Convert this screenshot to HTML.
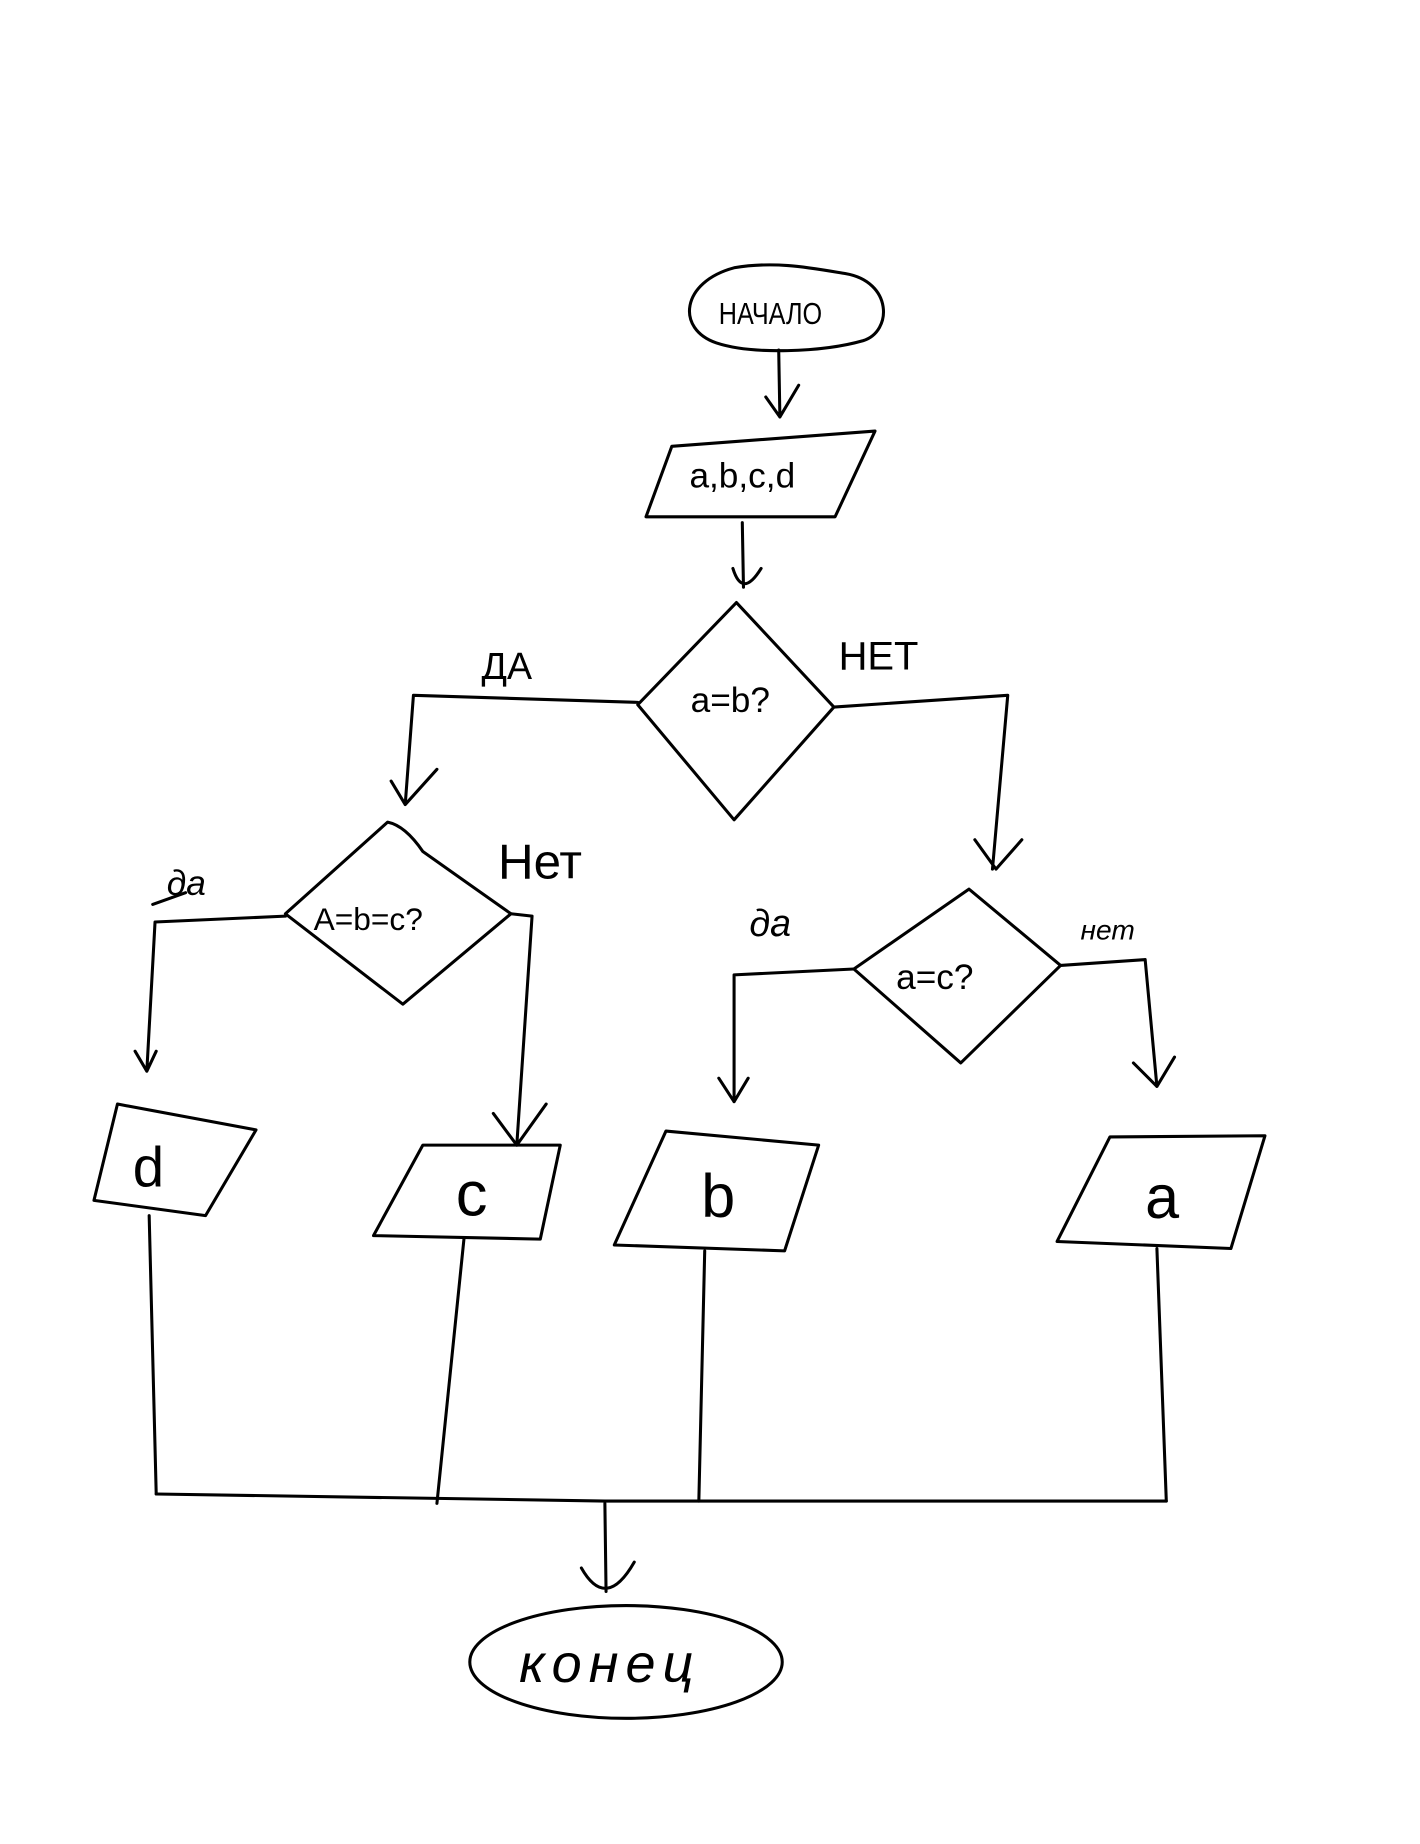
<!DOCTYPE html>
<html><head><meta charset="utf-8"><style>
html,body{margin:0;padding:0;background:#fff;}
svg{display:block;}
text{font-family:"Liberation Sans","DejaVu Sans",sans-serif;fill:#000;}
</style></head><body>
<svg width="1420" height="1844" viewBox="0 0 1209 1570" xmlns="http://www.w3.org/2000/svg">
<g fill="none" stroke="#000" stroke-width="2.6" stroke-linecap="round" stroke-linejoin="round">
<!-- start oval -->
<path d="M625,228 C660,222 690,228 720,233 C760,240 760,282 735,290 C700,300 640,302 610,292 C575,280 580,240 625,228 Z"/>
<path d="M663,298 L664,355 M652,338 L664,355 L680,328"/>
<!-- input -->
<path d="M572,380 L745,367 L711,440 L550,440 Z"/>
<path d="M632,445 L633,500 M624,484 Q632,510 648,484"/>
<!-- diamond 1 -->
<path d="M627,513 L543,600 L625,698 L710,602 Z"/>
<path d="M543,598 L352,592 L345,685 M333,665 L345,685 L372,655"/>
<path d="M710,602 L858,592 L845,740 M830,715 L848,740 L870,715"/>
<!-- diamond 2 -->
<path d="M330,700 Q345,703 360,725 L435,778 L343,855 L243,778 Z"/>
<path d="M243,780 L132,785 L125,912 M115,895 L125,912 L133,895"/>
<path d="M435,778 L453,780 L440,975 M420,948 L440,975 L465,940"/>
<!-- diamond 3 -->
<path d="M825,757 L727,825 L818,905 L903,822 Z"/>
<path d="M727,825 L625,830 L625,938 M612,918 L625,938 L637,918"/>
<path d="M903,822 L975,817 L985,925 M965,905 L985,925 L1000,900"/>
<!-- outputs -->
<path d="M100,940 L218,962 L175,1035 L80,1022 Z"/>
<path d="M360,975 L477,975 L460,1055 L318,1052 Z"/>
<path d="M567,963 L697,975 L668,1065 L523,1060 Z"/>
<path d="M945,968 L1077,967 L1048,1063 L900,1057 Z"/>
<!-- merge lines -->
<path d="M127,1035 L133,1272"/>
<path d="M395,1055 L372,1280"/>
<path d="M600,1065 L595,1278"/>
<path d="M985,1063 L993,1278"/>
<path d="M133,1272 L515,1278 L993,1278"/>
<path d="M515,1280 L516,1355 M495,1335 Q516,1372 540,1330"/>
<!-- end oval -->
<ellipse cx="533" cy="1415" rx="133" ry="48"/>
<path d="M130,770 L158,760"/>
</g>
<text x="612" y="276" font-size="26" textLength="88" lengthAdjust="spacingAndGlyphs">НАЧАЛО</text>
<text x="587" y="415" font-size="30">a,b,c,d</text>
<text x="588" y="606" font-size="30">a=b?</text>
<text x="410" y="578" font-size="32">ДА</text>
<text x="714" y="570" font-size="34">НЕТ</text>
<text x="267" y="792" font-size="27">A=b=c?</text>
<text x="142" y="762" font-size="30" font-style="italic">да</text>
<text x="424" y="748" font-size="42">Нет</text>
<text x="763" y="842" font-size="30">a=c?</text>
<text x="638" y="797" font-size="32" font-style="italic">да</text>
<text x="920" y="800" font-size="24" font-style="italic">нет</text>
<text x="113" y="1010" font-size="48">d</text>
<text x="388" y="1035" font-size="54">c</text>
<text x="597" y="1036" font-size="52">b</text>
<text x="975" y="1037" font-size="52">a</text>
<text x="442" y="1432" font-size="46" font-style="italic" letter-spacing="6">конец</text>
</svg>
</body></html>
